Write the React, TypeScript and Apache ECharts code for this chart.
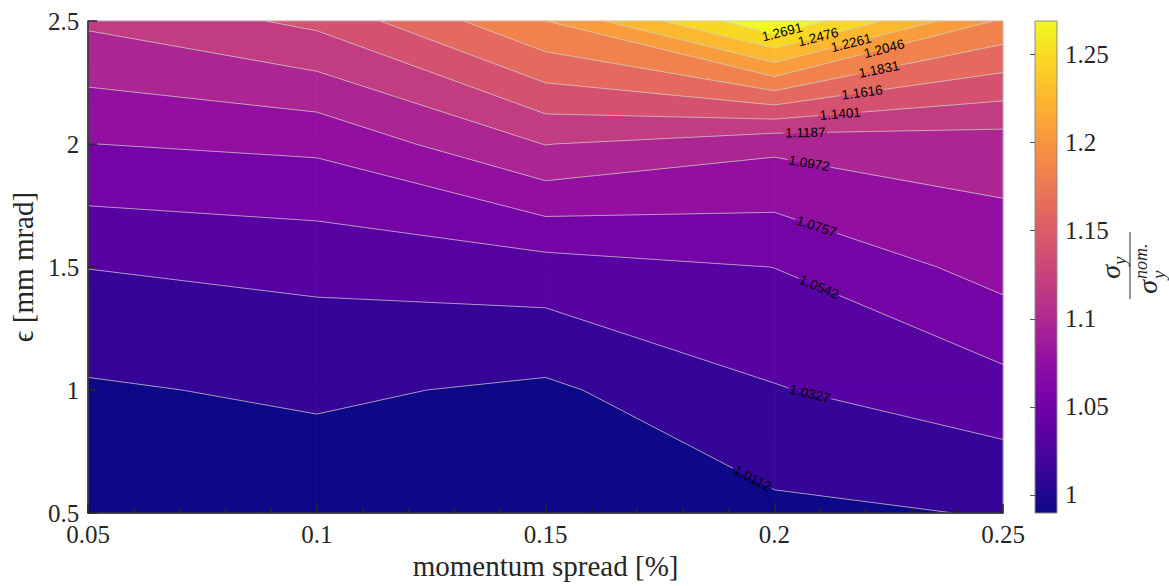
import React, { useEffect, useRef } from "react";
import * as echarts from "echarts";

// ---- data ----
const xValues = [0.05, 0.1, 0.15, 0.2, 0.25]; // momentum spread [%]
const yValues = [0.5, 1.0, 1.5, 2.0, 2.5]; // emittance [mm mrad]
// z = sigma_y / sigma_y^nom, one row per y value, one column per x value
const zAtY05 = [0.9897, 0.9964, 0.995, 1.0065, 1.0125];
const zAtY10 = [1.0087, 1.0148, 1.0073, 1.0314, 1.0463];
const zAtY15 = [1.0331, 1.0385, 1.0453, 1.0544, 1.0843];
const zAtY20 = [1.0755, 1.0804, 1.1193, 1.1023, 1.1074];
const zAtY25 = [1.1224, 1.1452, 1.2043, 1.289, 1.2008];
const zGrid = [zAtY05, zAtY10, zAtY15, zAtY20, zAtY25];

const levels = [
  1.0112, 1.0327, 1.0542, 1.0757, 1.0972, 1.1187, 1.1401, 1.1616, 1.1831,
  1.2046, 1.2261, 1.2476, 1.2691,
];
// x (data units) where each contour level carries its label
const labelX = [
  0.1952, 0.2078, 0.2098, 0.2092, 0.2076, 0.2068, 0.2144, 0.2192, 0.2229,
  0.224, 0.2168, 0.2096, 0.2017,
];
const colorbarTicks = [1, 1.05, 1.1, 1.15, 1.2, 1.25];
const colorMin = 0.9897;
const colorMax = 1.2691;

const plasmaStops = [
  "#0d0887", "#41049d", "#6a00a8", "#8f0da4", "#b12a90", "#cc4778",
  "#e16462", "#f2844b", "#fca636", "#fcce25", "#f0f921",
];

const SERIF = "'Liberation Serif', 'Times New Roman', 'DejaVu Serif', serif";
const AXIS_COLOR = "#262626";
const LINE_COLOR = "rgba(205,205,205,0.9)";

function hexToRgb(h: string) {
  const n = parseInt(h.slice(1), 16);
  return [(n >> 16) & 255, (n >> 8) & 255, n & 255];
}
function plasma(t: number) {
  const tt = Math.max(0, Math.min(1, t)) * (plasmaStops.length - 1);
  const i = Math.min(Math.floor(tt), plasmaStops.length - 2);
  const f = tt - i;
  const a = hexToRgb(plasmaStops[i]);
  const b = hexToRgb(plasmaStops[i + 1]);
  const c = a.map((v, k) => Math.round(v + (b[k] - v) * f));
  return `rgb(${c[0]},${c[1]},${c[2]})`;
}

type P3 = [number, number, number];
type Pt = [number, number];

function buildCells(): P3[][] {
  const cells: P3[][] = [];
  for (let j = 0; j < yValues.length - 1; j++) {
    for (let i = 0; i < xValues.length - 1; i++) {
      cells.push([
        [xValues[i], yValues[j], zGrid[j][i]],
        [xValues[i + 1], yValues[j], zGrid[j][i + 1]],
        [xValues[i + 1], yValues[j + 1], zGrid[j + 1][i + 1]],
        [xValues[i], yValues[j + 1], zGrid[j + 1][i]],
      ]);
    }
  }
  return cells;
}

function clipOutside(p1: Pt, p2: Pt, c: Pt, r: number): Pt[][] {
  const dx = p2[0] - p1[0];
  const dy = p2[1] - p1[1];
  const fx = p1[0] - c[0];
  const fy = p1[1] - c[1];
  const a = dx * dx + dy * dy;
  const b = 2 * (fx * dx + fy * dy);
  const cc = fx * fx + fy * fy - r * r;
  const disc = b * b - 4 * a * cc;
  if (a === 0 || disc <= 0) return [[p1, p2]];
  const s = Math.sqrt(disc);
  const t1 = (-b - s) / (2 * a);
  const t2 = (-b + s) / (2 * a);
  if (t1 >= 1 || t2 <= 0) return [[p1, p2]];
  const lerp = (t: number): Pt => [p1[0] + dx * t, p1[1] + dy * t];
  const out: Pt[][] = [];
  if (t1 > 0) out.push([p1, lerp(t1)]);
  if (t2 < 1) out.push([lerp(t2), p2]);
  return out;
}

function renderContour(params: any, api: any) {
  const children: any[] = [];
  const cells = buildCells();
  const bounds = [-Infinity, ...levels, Infinity];

  // filled bands
  for (const c of cells) {
    for (let b = 0; b < bounds.length - 1; b++) {
      const lo = bounds[b];
      const hi = bounds[b + 1];
      const pts: number[][] = [];
      for (let k = 0; k < 4; k++) {
        const A = c[k];
        const B = c[(k + 1) % 4];
        if (A[2] >= lo && A[2] < hi) pts.push(api.coord([A[0], A[1]]));
        const ts: number[] = [];
        [lo, hi].forEach((L) => {
          if (isFinite(L) && (A[2] - L) * (B[2] - L) < 0) ts.push((L - A[2]) / (B[2] - A[2]));
        });
        ts.sort((u, v) => u - v);
        ts.forEach((t) =>
          pts.push(api.coord([A[0] + t * (B[0] - A[0]), A[1] + t * (B[1] - A[1])]))
        );
      }
      if (pts.length >= 3) {
        const lower = b === 0 ? colorMin : bounds[b];
        const col = plasma((lower - colorMin) / (colorMax - colorMin));
        children.push({
          type: "polygon",
          shape: { points: pts },
          style: { fill: col, stroke: col, lineWidth: 0.7 },
        });
      }
    }
  }

  // domain boundary
  const tl = api.coord([xValues[0], yValues[yValues.length - 1]]);
  const br = api.coord([xValues[xValues.length - 1], yValues[0]]);
  children.push({
    type: "rect",
    shape: { x: tl[0], y: tl[1], width: br[0] - tl[0], height: br[1] - tl[1] },
    style: { fill: "none", stroke: LINE_COLOR, lineWidth: 0.8 },
  });

  // contour lines + labels
  levels.forEach((L, li) => {
    const segs: { d: Pt[]; p: Pt[] }[] = [];
    for (const c of cells) {
      const pts: Pt[] = [];
      for (let k = 0; k < 4; k++) {
        const A = c[k];
        const B = c[(k + 1) % 4];
        if ((A[2] - L) * (B[2] - L) < 0) {
          const t = (L - A[2]) / (B[2] - A[2]);
          pts.push([A[0] + t * (B[0] - A[0]), A[1] + t * (B[1] - A[1])]);
        }
      }
      for (let s = 0; s + 1 < pts.length; s += 2) {
        segs.push({ d: [pts[s], pts[s + 1]], p: [api.coord(pts[s]), api.coord(pts[s + 1])] });
      }
    }
    const lx = labelX[li];
    let center: Pt | null = null;
    let rot = 0;
    for (const sg of segs) {
      const [a, b] = sg.d;
      if (a[0] === b[0]) continue;
      if (lx >= Math.min(a[0], b[0]) && lx <= Math.max(a[0], b[0])) {
        const t = (lx - a[0]) / (b[0] - a[0]);
        center = api.coord([lx, a[1] + t * (b[1] - a[1])]);
        let [p1, p2] = sg.p;
        if (p2[0] < p1[0]) [p1, p2] = [p2, p1];
        rot = -Math.atan2(p2[1] - p1[1], p2[0] - p1[0]);
        break;
      }
    }
    for (const sg of segs) {
      const parts = center ? clipOutside(sg.p[0], sg.p[1], center, 22) : [sg.p];
      for (const [p1, p2] of parts) {
        children.push({
          type: "line",
          shape: { x1: p1[0], y1: p1[1], x2: p2[0], y2: p2[1] },
          style: { stroke: LINE_COLOR, lineWidth: 0.8 },
        });
      }
    }
    if (center) {
      children.push({
        type: "text",
        x: center[0],
        y: center[1],
        rotation: rot,
        style: {
          text: L.toFixed(4),
          fill: "#000",
          font: "13.5px 'Liberation Sans', Arial, sans-serif",
          align: "center",
          verticalAlign: "middle",
          textAlign: "center",
          textVerticalAlign: "middle",
        },
      });
    }
  });

  return { type: "group", children };
}

function renderColorbar(params: any, api: any) {
  const p0 = api.coord([0, colorMin]);
  const p1 = api.coord([1, colorMax]);
  const shape = { x: p0[0], y: p1[1], width: p1[0] - p0[0], height: p0[1] - p1[1] };
  const stops = plasmaStops.map((c, i) => ({ offset: i / (plasmaStops.length - 1), color: c }));
  return {
    type: "group",
    children: [
      { type: "rect", shape, style: { fill: new echarts.graphic.LinearGradient(0, 1, 0, 0, stops) } },
      { type: "rect", shape, style: { fill: "none", stroke: "#8c8c8c", lineWidth: 1 } },
    ],
  };
}

function mathText(text: string, x: number, y: number, size: number, align: string) {
  return {
    type: "text",
    x,
    y,
    style: {
      text,
      fill: AXIS_COLOR,
      font: `italic ${size}px ${SERIF}`,
      align,
      verticalAlign: "bottom",
      textAlign: align,
      textVerticalAlign: "bottom",
    },
  };
}

export default function App() {
  const ref = useRef<HTMLDivElement>(null);
  useEffect(() => {
    document.body.style.margin = "0";
    if (!ref.current) return;
    const chart = echarts.init(ref.current, undefined, { renderer: "svg" });
    const axisLineStyle = { color: AXIS_COLOR, width: 1.5 };
    const option: any = {
      animation: false,
      backgroundColor: "#ffffff",
      grid: [
        { left: 87, top: 21, width: 916, height: 492 },
        { left: 1035, top: 21, width: 22, height: 492 },
      ],
      xAxis: [
        {
          type: "value",
          gridIndex: 0,
          min: 0.05,
          max: 0.25,
          interval: 0.05,
          z: 10,
          name: "momentum spread [%]",
          nameLocation: "middle",
          nameGap: 37,
          nameTextStyle: { fontFamily: SERIF, fontSize: 29, color: AXIS_COLOR },
          axisLine: { show: true, onZero: false, lineStyle: axisLineStyle },
          axisTick: { show: true, inside: true, length: 9, lineStyle: axisLineStyle },
          minorTick: { show: true, splitNumber: 5, length: 5, lineStyle: axisLineStyle },
          axisLabel: {
            fontFamily: SERIF,
            fontSize: 25,
            color: AXIS_COLOR,
            margin: 9,
            showMinLabel: true,
            showMaxLabel: true,
          },
          splitLine: { show: false },
          minorSplitLine: { show: false },
        },
        { type: "value", gridIndex: 1, min: 0, max: 1, show: false },
      ],
      yAxis: [
        {
          type: "value",
          gridIndex: 0,
          min: 0.5,
          max: 2.5,
          interval: 0.5,
          z: 10,
          name: "\u03f5 [mm mrad]",
          nameLocation: "middle",
          nameGap: 44,
          nameTextStyle: { fontFamily: SERIF, fontSize: 29, color: AXIS_COLOR },
          axisLine: { show: true, onZero: false, lineStyle: axisLineStyle },
          axisTick: { show: true, inside: true, length: 9, lineStyle: axisLineStyle },
          axisLabel: {
            fontFamily: SERIF,
            fontSize: 25,
            color: AXIS_COLOR,
            margin: 9,
            showMinLabel: true,
            showMaxLabel: true,
          },
          splitLine: { show: false },
        },
        {
          type: "value",
          gridIndex: 1,
          position: "right",
          min: colorMin,
          max: colorMax,
          z: 10,
          axisLine: { show: false },
          axisTick: {
            show: true,
            inside: true,
            length: 5,
            customValues: colorbarTicks,
            lineStyle: { color: "#555", width: 1 },
          },
          axisLabel: {
            customValues: colorbarTicks,
            fontFamily: SERIF,
            fontSize: 25,
            color: AXIS_COLOR,
            margin: 8,
          },
          splitLine: { show: false },
        },
      ],
      series: [
        {
          type: "custom",
          xAxisIndex: 0,
          yAxisIndex: 0,
          renderItem: renderContour,
          data: [[0.15, 1.5]],
          encode: { x: 0, y: 1 },
          silent: true,
          z: 2,
        },
        {
          type: "custom",
          xAxisIndex: 1,
          yAxisIndex: 1,
          renderItem: renderColorbar,
          data: [[0.5, 1.1]],
          encode: { x: 0, y: 1 },
          silent: true,
          z: 2,
        },
      ],
      graphic: [
        {
          type: "group",
          x: 1130,
          y: 267,
          rotation: Math.PI / 2,
          silent: true,
          children: [
            {
              type: "line",
              shape: { x1: -32, y1: 0, x2: 35, y2: 0 },
              style: { stroke: AXIS_COLOR, lineWidth: 1 },
            },
            mathText("\u03c3", 2, -6, 28, "right"),
            mathText("y", 2, -1, 19, "left"),
            mathText("\u03c3", -13, 31, 28, "right"),
            mathText("y", -12, 38, 19, "left"),
            mathText("nom.", -12, 20, 18, "left"),
          ],
        },
      ],
    };
    chart.setOption(option);
    return () => chart.dispose();
  }, []);
  return <div ref={ref} style={{ width: 1169, height: 586 }} />;
}
